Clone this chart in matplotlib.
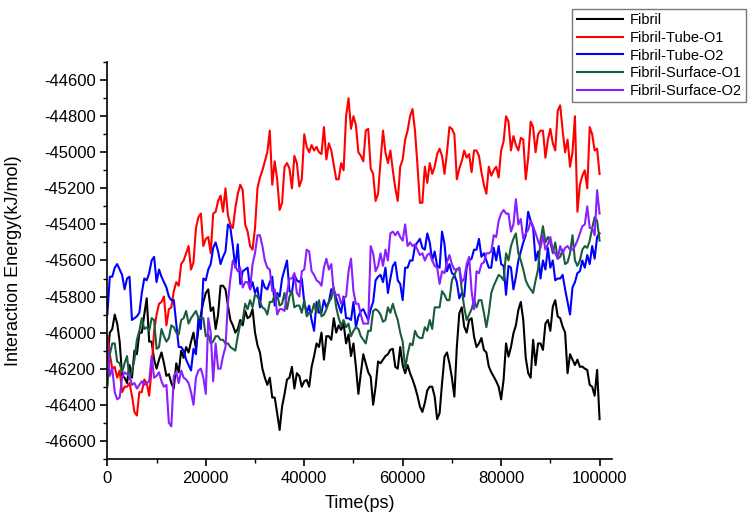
import numpy as np
import matplotlib
matplotlib.use("Agg")
import matplotlib.pyplot as plt
from matplotlib.ticker import MultipleLocator, FuncFormatter

plt.rcParams['font.family'] = ['Liberation Sans', 'DejaVu Sans']

# readings every 1000 ps (0 ... 100000) and in between (500 ... 99500)
t_whole = np.arange(0, 100001, 1000)
t_half = np.arange(500, 100000, 1000)

fibril = [-46150, -45980, -45950, -46240, -46280, -46250, -46120, -46000, -45810, -46050,
          -46200, -46110, -46240, -46280, -46170, -46100, -46080, -46050, -46090, -45900,
          -45780, -45880, -45980, -45740, -45760, -45930, -46000, -45930, -45880, -45910,
          -46000, -46110, -46250, -46250, -46360, -46540, -46340, -46250, -46310, -46240,
          -46270, -46300, -46130, -46080, -46150, -46020, -45920, -45960, -45950, -46010,
          -46060, -46340, -46120, -46220, -46400, -46160, -46150, -46120, -46090, -46200,
          -46180, -46180, -46260, -46350, -46440, -46320, -46300, -46480, -46280, -46110,
          -46250, -46080, -45860, -46000, -45920, -46080, -46030, -46110, -46220, -46270,
          -46370, -46060, -46080, -45960, -45830, -46140, -46250, -46180, -46060, -45950,
          -45990, -45820, -45920, -46000, -46120, -46180, -46190, -46200, -46290, -46350,
          -46480]
fibril_half = [-46000, -45900, -46050, -46250, -46180, -46100, -46000, -45900, -46050, -46150,
               -46150, -46170, -46230, -46310, -46220, -46140, -46110, -46000, -45980, -45830,
               -45760, -45860, -45900, -45740, -45850, -45960, -45980, -45960, -45920, -45870,
               -46070, -46200, -46290, -46360, -46447, -46410, -46260, -46190, -46225, -46300,
               -46262, -46190, -46060, -46000, -46020, -46040, -46000, -45985, -46060, -46130,
               -46190, -46225, -46170, -46245, -46300, -46170, -46130, -46095, -46190, -46080,
               -46225, -46225, -46300, -46410, -46390, -46300, -46355, -46447, -46133, -46170,
               -46355, -45893, -45967, -45930, -46022, -46060, -46096, -46188, -46244, -46300,
               -46262, -46133, -46004, -45874, -45930, -46225, -46040, -46060, -46096, -45930,
               -45856, -45911, -45967, -46225, -46150, -46150, -46188, -46207, -46300, -46207]

tube_o1 = [-46020, -46200, -46250, -46330, -46300, -46350, -46460, -46330, -46280, -46200,
           -45900, -45830, -45960, -45860, -45720, -45620, -45560, -45650, -45420, -45340,
           -45480, -45560, -45330, -45240, -45200, -45400, -45310, -45180, -45400, -45520,
           -45420, -45140, -45050, -44880, -45050, -45320, -45080, -45090, -45020, -45190,
           -44900, -45000, -44990, -45000, -44860, -44950, -45070, -45150, -45100, -44700,
           -44800, -45000, -45050, -44870, -45120, -45230, -44880, -45060, -45100, -45270,
           -45040, -44880, -44760, -45070, -45280, -45170, -45120, -45010, -45020, -45000,
           -44870, -45150, -45050, -45030, -45110, -44990, -45110, -45230, -45130, -45080,
           -44990, -44800, -44990, -44960, -44920, -45150, -44830, -45000, -44880, -45030,
           -44870, -44990, -44740, -45000, -45080, -44800, -45180, -45100, -44860, -44990,
           -45120]
tube_o1_half = [-46120, -46190, -46210, -46300, -46280, -46440, -46330, -46260, -46350, -45990,
                -45840, -45800, -45870, -45770, -45740, -45600, -45520, -45610, -45360, -45520,
                -45470, -45340, -45270, -45330, -45350, -45420, -45230, -45210, -45440, -45540,
                -45200, -45100, -45000, -45180, -45150, -45280, -45060, -45200, -45060, -45150,
                -44970, -44960, -44970, -45010, -45040, -44990, -45150, -45060, -44800, -44870,
                -44850, -45020, -44880, -45090, -45270, -45050, -45000, -44990, -45200, -45080,
                -44930, -44800, -44880, -45280, -45080, -45060, -45080, -44980, -45120, -44860,
                -44900, -45090, -44990, -45010, -44990, -45020, -45180, -45080, -45100, -45140,
                -44940, -44830, -44910, -44990, -44930, -45030, -44860, -44900, -44880, -44930,
                -44950, -44770, -44880, -44930, -45000, -45330, -45130, -45200, -44900, -44980]

tube_o2 = [-45900, -45690, -45620, -45680, -45700, -45930, -45910, -45780, -45710, -45600,
           -45720, -45690, -45750, -45820, -45950, -46080, -46150, -46210, -46120, -45980,
           -45710, -45620, -45500, -45620, -45550, -45420, -45640, -45730, -45650, -45760,
           -45780, -45860, -45750, -45720, -45850, -45800, -45650, -45770, -45680, -45720,
           -45830, -45850, -45990, -45890, -45820, -45830, -45760, -45850, -45800, -45920,
           -45830, -45910, -45870, -45930, -45830, -45690, -45720, -45780, -45630, -45710,
           -45820, -45640, -45600, -45500, -45530, -45450, -45600, -45630, -45440, -45660,
           -45670, -45720, -45780, -45640, -45590, -45540, -45580, -45600, -45640, -45600,
           -45620, -45790, -45640, -45690, -45550, -45460, -45380, -45600, -45700, -45650,
           -45640, -45710, -45700, -45760, -45900, -45720, -45660, -45640, -45620, -45590,
           -45450]
tube_o2_half = [-45690, -45640, -45650, -45760, -45690, -45920, -45890, -45700, -45670, -45580,
                -45650, -45720, -45800, -45820, -46080, -46100, -46180, -46090, -45920, -45700,
                -45650, -45530, -45550, -45580, -45400, -45520, -45510, -45660, -45640, -45720,
                -45750, -45710, -45760, -45690, -45780, -45700, -45600, -45780, -45710, -45700,
                -45890, -45930, -45830, -45890, -45860, -45760, -45810, -45890, -45920, -45930,
                -45970, -45880, -45900, -45870, -45710, -45680, -45640, -45700, -45610, -45730,
                -45640, -45600, -45520, -45480, -45540, -45500, -45550, -45640, -45510, -45620,
                -45680, -45810, -45800, -45600, -45540, -45480, -45560, -45640, -45530, -45520,
                -45630, -45630, -45760, -45600, -45500, -45330, -45420, -45550, -45600, -45530,
                -45600, -45700, -45680, -45830, -45750, -45670, -45600, -45570, -45520, -45470]

surface_o1 = [-46300, -46060, -46160, -46220, -46130, -46210, -46040, -45920, -45970, -45920,
              -46090, -45980, -46050, -45960, -46000, -45930, -45880, -45920, -45880, -45920,
              -46020, -46060, -46020, -46040, -46060, -46080, -46100, -45950, -45840, -45820,
              -45790, -45830, -45870, -45830, -45790, -45850, -45780, -45800, -45860, -45850,
              -45820, -45890, -45840, -45820, -45900, -45830, -45750, -45920, -45930, -45950,
              -45990, -45980, -46040, -45990, -45880, -45880, -45940, -45860, -45840, -45930,
              -46050, -46120, -46070, -46020, -46030, -45990, -45980, -45860, -45770, -45820,
              -45710, -45650, -45760, -45930, -45870, -45860, -45820, -45970, -45780, -45710,
              -45690, -45560, -45520, -45450, -45600, -45710, -45760, -45710, -45490, -45500,
              -45500, -45500, -45580, -45620, -45560, -45600, -45600, -45520, -45490, -45360,
              -45490]
surface_o1_half = [-46120, -46060, -46170, -46170, -46260, -46150, -45990, -45980, -45990, -45930,
                   -46080, -46020, -46030, -45970, -46010, -45920, -45950, -45900, -45920, -45920,
                   -46010, -46050, -46020, -46040, -46060, -46090, -46020, -45930, -45870, -45860,
                   -45800, -45860, -45900, -45830, -45790, -45840, -45870, -45770, -45850, -45890,
                   -45910, -45890, -45890, -45910, -45870, -45810, -45860, -45960, -45970, -46020,
                   -45970, -46020, -46060, -45990, -45870, -45900, -45930, -45890, -45890, -46000,
                   -46200, -46060, -45990, -46030, -45970, -45930, -45860, -45860, -45790, -45820,
                   -45680, -45640, -45860, -45900, -45820, -45820, -45890, -45890, -45740, -45680,
                   -45710, -45600, -45480, -45560, -45650, -45740, -45780, -45650, -45410, -45470,
                   -45560, -45590, -45540, -45610, -45460, -45630, -45540, -45530, -45420, -45380]

surface_o2 = [-46050, -46200, -46370, -46250, -46230, -46290, -46310, -46270, -46280, -46130,
              -46240, -46270, -46290, -46520, -46220, -46210, -46260, -46330, -46250, -46200,
              -46340, -46000, -46060, -46200, -46080, -45700, -45630, -45640, -45720, -45760,
              -45560, -45460, -45600, -45650, -45760, -45870, -45880, -45700, -45670, -45800,
              -45650, -45550, -45680, -45720, -45640, -45650, -45780, -45790, -45810, -45660,
              -45770, -45840, -45950, -45950, -45560, -45630, -45630, -45600, -45440, -45440,
              -45490, -45520, -45520, -45540, -45560, -45570, -45600, -45640, -45660, -45610,
              -45620, -45650, -45720, -45620, -45770, -45660, -45620, -45560, -45550, -45470,
              -45340, -45340, -45440, -45260, -45370, -45450, -45380, -45450, -45530, -45540,
              -45470, -45560, -45520, -45530, -45540, -45520, -45450, -45400, -45420, -45460,
              -45340]
surface_o2_half = [-46240, -46330, -46360, -46220, -46240, -46280, -46290, -46290, -46270, -46250,
                   -46220, -46300, -46500, -46240, -46280, -46250, -46280, -46400, -46210, -46250,
                   -45920, -46270, -46200, -46130, -45830, -45600, -45660, -45750, -45720, -45620,
                   -45460, -45520, -45640, -45770, -45900, -45870, -45780, -45700, -45780, -45660,
                   -45540, -45660, -45710, -45740, -45590, -45620, -45790, -45840, -45800, -45590,
                   -45840, -45900, -45950, -45520, -45660, -45560, -45540, -45450, -45460, -45470,
                   -45400, -45500, -45510, -45570, -45600, -45560, -45630, -45730, -45670, -45570,
                   -45650, -45640, -45700, -45580, -45870, -45670, -45610, -45560, -45460, -45380,
                   -45320, -45340, -45400, -45400, -45480, -45430, -45410, -45490, -45460, -45510,
                   -45540, -45590, -45560, -45520, -45540, -45490, -45410, -45300, -45420, -45210]

labels = ['Fibril', 'Fibril-Tube-O1', 'Fibril-Tube-O2', 'Fibril-Surface-O1', 'Fibril-Surface-O2']
colors = ['#000000', '#ff0000', '#0000ff', '#1a5c3c', '#8a1fff']
series = [(fibril, fibril_half), (tube_o1, tube_o1_half), (tube_o2, tube_o2_half),
          (surface_o1, surface_o1_half), (surface_o2, surface_o2_half)]

time = np.concatenate([t_whole, t_half])
order = np.argsort(time)

fig = plt.figure(figsize=(7.56, 5.22), dpi=100)
ax = fig.add_axes([0.142, 0.121, 0.668, 0.760])

for (whole, half), c, lab in zip(series, colors, labels):
    e = np.concatenate([whole, half])
    ax.plot(time[order], e[order], color=c, lw=1.5, label=lab)

ax.set_xlim(0, 102600)
ax.set_ylim(-46700, -44500)
ax.xaxis.set_major_locator(MultipleLocator(20000))
ax.xaxis.set_minor_locator(MultipleLocator(10000))
ax.yaxis.set_major_locator(MultipleLocator(200))
ax.yaxis.set_minor_locator(MultipleLocator(100))
ax.yaxis.set_major_formatter(FuncFormatter(lambda v, p: '%d' % v))

ax.spines['top'].set_visible(False)
ax.spines['right'].set_visible(False)
for sp in ['left', 'bottom']:
    ax.spines[sp].set_linewidth(1.2)
ax.tick_params(which='major', direction='out', length=5, width=1.2, labelsize=12)
ax.tick_params(which='minor', direction='out', length=3, width=1.0)

ax.set_xlabel('Time(ps)', fontsize=13, labelpad=7)
ax.set_ylabel('Interaction Energy(kJ/mol)', fontsize=13)
ax.yaxis.set_label_coords(-0.17, 0.5)

leg = fig.legend(loc='upper right', bbox_to_anchor=(0.996, 0.997), fontsize=10.5,
                 frameon=True, fancybox=False, borderpad=0.3, labelspacing=0.25,
                 handlelength=3.2, handletextpad=0.4)
leg.get_frame().set_edgecolor('#555555')
leg.get_frame().set_linewidth(1.0)

fig.savefig('out.png', dpi=100)
